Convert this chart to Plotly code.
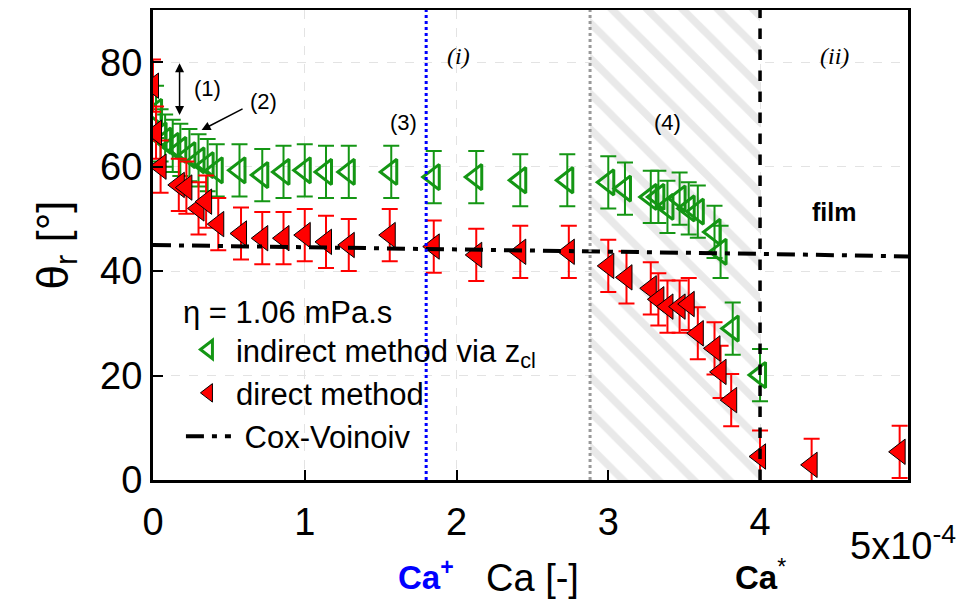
import plotly.graph_objects as go

# ---------------- data (Ca in units of 1e-4, theta in degrees) ----------------
ca_indirect = [0.02, 0.05, 0.08, 0.13, 0.18, 0.24, 0.30, 0.36, 0.42, 0.57, 0.72, 0.86, 1.00, 1.14, 1.29,
               1.57, 1.85, 2.13, 2.42, 2.73,
               3.00, 3.11, 3.28, 3.33, 3.39, 3.47, 3.53, 3.59, 3.70, 3.74, 3.82, 4.00]
theta_indirect = [70.5, 66.0, 65.0, 64.0, 63.2, 62.2, 61.2, 60.3, 59.3, 59.3, 58.4, 59.0, 59.3, 59.0, 59.0,
                  59.0, 58.0, 58.0, 57.4, 57.4,
                  57.0, 55.8, 54.2, 54.2, 52.3, 53.9, 52.0, 51.4, 47.5, 43.7, 29.0, 20.1]
err_indirect = [5] * len(ca_indirect)

ca_direct = [0.00, 0.02, 0.05, 0.17, 0.22, 0.30, 0.35, 0.43, 0.58, 0.72, 0.86, 1.00, 1.14, 1.29,
             1.56, 1.85, 2.13, 2.42, 2.74,
             3.00, 3.12, 3.28, 3.33, 3.39, 3.47, 3.53, 3.59, 3.70, 3.74, 3.81,
             4.00, 4.34, 4.92]
theta_direct = [75.5, 66.5, 60.0, 56.5, 56.0, 52.0, 53.3, 49.0, 47.2, 46.3, 46.3, 46.9, 45.6, 45.0,
                46.9, 44.7, 43.1, 43.7, 43.7,
                41.0, 38.8, 36.7, 34.6, 33.2, 33.2, 33.7, 28.1, 25.2, 20.7, 15.3,
                4.5, 2.9, 5.4]
err_direct = [5] * len(ca_direct)

ca_cox = [0.0, 1.0, 2.0, 3.0, 4.0, 5.0]
theta_cox = [45.0, 44.6, 44.2, 43.8, 43.3, 42.8]

CA_PLUS = 1.8
CA_HATCH_START = 2.88
CA_STAR = 4.0
X_MAX = 4.975
Y_MAX = 90

x_ticks = [0, 1, 2, 3, 4]
x_ticktext = ["0", "1", "2", "3", "4"]
y_ticks = [0, 20, 40, 60, 80]

GREEN = "rgb(20,150,20)"
FONT = "Liberation Sans, Arial, sans-serif"

fig = go.Figure()

# hatched region (4)
fig.add_trace(go.Scatter(
    x=[CA_HATCH_START, CA_STAR, CA_STAR, CA_HATCH_START, CA_HATCH_START],
    y=[0, 0, Y_MAX, Y_MAX, 0],
    fill="toself", mode="none", showlegend=False, hoverinfo="skip",
    fillcolor="white",
    fillpattern=dict(shape="\\", fgcolor="#d4d4d4", bgcolor="white", size=25, solidity=0.3),
))

fig.add_trace(go.Scatter(
    x=ca_indirect, y=theta_indirect, mode="markers",
    name="indirect method via z<sub>cl</sub>", legendgroup="a",
    marker=dict(symbol="triangle-left-open", size=22, color=GREEN, line=dict(width=3, color=GREEN)),
    error_y=dict(type="data", array=err_indirect, color=GREEN, thickness=2, width=8),
))
fig.add_trace(go.Scatter(
    x=ca_direct, y=theta_direct, mode="markers",
    name="direct method", legendgroup="b",
    marker=dict(symbol="triangle-left", size=22, color="red", line=dict(width=1, color="black")),
    error_y=dict(type="data", array=err_direct, color="red", thickness=2, width=8),
))
fig.add_trace(go.Scatter(
    x=ca_cox, y=theta_cox, mode="lines",
    name=" Cox-Voinoiv", legendgroup="c",
    line=dict(color="black", width=4, dash="18px,8px,5px,8px"),
))

# vertical reference lines
fig.add_shape(type="line", xref="x", yref="paper", x0=CA_PLUS, x1=CA_PLUS, y0=0, y1=1,
              line=dict(color="blue", width=3, dash="dot"), layer="above")
fig.add_shape(type="line", xref="x", yref="paper", x0=CA_HATCH_START, x1=CA_HATCH_START, y0=0, y1=1,
              line=dict(color="#999999", width=3, dash="dot"), layer="above")
fig.add_shape(type="line", xref="x", yref="paper", x0=CA_STAR, x1=CA_STAR, y0=0, y1=1,
              line=dict(color="black", width=3.5, dash="dash"), layer="above")

ann = []
def txt(x, y, text, size, xref="x", yref="y", family=FONT, color="black", xanchor="center", **kw):
    ann.append(dict(x=x, y=y, xref=xref, yref=yref, text=text, showarrow=False,
                    xanchor=xanchor, yanchor="middle",
                    font=dict(size=size, family=family, color=color), **kw))

serif = "Liberation Serif, Times New Roman, serif"
txt(2.01, 81.1, "<i>(i)</i>", 24, family=serif)
txt(4.49, 81.1, "<i>(ii)</i>", 24, family=serif)
txt(1.65, 68.5, "(3)", 22)
txt(3.39, 68.5, "(4)", 22)
txt(0.36, 75.0, "(1)", 22)
txt(0.73, 72.5, "(2)", 22)
txt(4.49, 51.3, "<b>film</b>", 25)

# arrows
ann.append(dict(x=0.175, y=69.9, ax=0.175, ay=80.1, xref="x", yref="y", axref="x", ayref="y",
                showarrow=True, arrowhead=2, startarrowhead=2, arrowside="end+start",
                arrowwidth=1.5, arrowsize=1.2, arrowcolor="black", text=""))
ann.append(dict(x=0.32, y=67.0, ax=0.6, ay=71.2, xref="x", yref="y", axref="x", ayref="y",
                showarrow=True, arrowhead=2, arrowwidth=1.5, arrowsize=1.2, arrowcolor="black", text=""))

# axis extras
txt(1.066, -0.135, "5x10<sup>-4</sup>", 38, xref="paper", yref="paper", xanchor="right")
txt(0.503, -0.208, "Ca [-]", 38, xref="paper", yref="paper")
txt(CA_PLUS, -0.202, "<b>Ca</b><sup><b>+</b></sup>", 33, xref="x", yref="paper", color="blue")
txt(CA_STAR, -0.202, "<b>Ca</b><sup>*</sup>", 33, xref="x", yref="paper")

# page body has an 8px margin: size the figure so the plot lands where the reference has it
fig.update_layout(
    width=958, height=598,
    margin=dict(l=145, r=58, t=2, b=126),
    paper_bgcolor="white", plot_bgcolor="white",
    font=dict(family=FONT, color="black", size=31),
    annotations=ann,
    legend=dict(
        x=0.037, y=0.42, xanchor="left", yanchor="top",
        bgcolor="rgba(0,0,0,0)", font=dict(size=31, family=FONT),
        title=dict(text="\u03b7 = 1.06 mPa.s", font=dict(size=31, family=FONT)),
        traceorder="grouped", tracegroupgap=0, itemwidth=45,
    ),
)
fig.update_xaxes(
    range=[0, X_MAX], tickvals=x_ticks, ticktext=x_ticktext,
    ticks="inside", ticklen=10, tickwidth=2, tickcolor="black",
    showline=True, linecolor="black", linewidth=3, mirror=True,
    showgrid=True, gridcolor="#e3e3e3", gridwidth=1, griddash="dash",
    zeroline=False, tickfont=dict(size=38, family=FONT), automargin=False,
    ticklabelstandoff=6,
)
fig.update_yaxes(
    range=[0, Y_MAX], tickvals=y_ticks,
    ticks="inside", ticklen=10, tickwidth=2, tickcolor="black",
    showline=True, linecolor="black", linewidth=3, mirror=True,
    showgrid=True, gridcolor="#e3e3e3", gridwidth=1, griddash="dash",
    zeroline=False, tickfont=dict(size=38, family=FONT), automargin=False,
    title=dict(text="\u03b8<sub>r</sub> [°]", font=dict(size=44, family=FONT), standoff=18),
)

fig.write_html("out.html")
